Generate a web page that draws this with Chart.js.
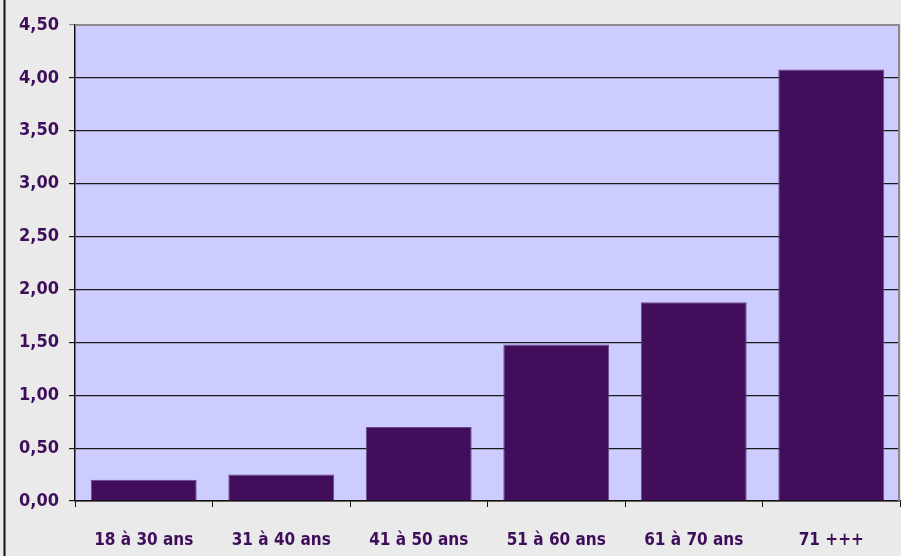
<!DOCTYPE html>
<html>
<head>
<meta charset="utf-8">
<script src="https://cdn.jsdelivr.net/npm/chart.js@4.4.0/dist/chart.umd.min.js"></script>
<style>
  html, body { margin: 0; padding: 0; background: #eaeaea; }
  #wrap { width: 901px; height: 556px; position: relative; }
</style>
</head>
<body>
<div id="wrap"><canvas id="ageChart" width="901" height="556"></canvas></div>
<script>
// Data
const categories = ['18 à 30 ans', '31 à 40 ans', '41 à 50 ans', '51 à 60 ans', '61 à 70 ans', '71 +++'];
const values = [0.20, 0.25, 0.70, 1.48, 1.88, 4.08];
const yMin = 0;
const yMax = 4.5;
const yStep = 0.5;

const textColor = '#3f0e5b';
const fontFamily = "'DejaVu Sans Condensed', sans-serif";

// Paints the outer frame and the lavender plot area
const framePlugin = {
    id: 'frame',
    beforeDraw(chart) {
        const ctx = chart.ctx;
        const a = chart.chartArea;
        ctx.save();
        ctx.fillStyle = '#eaeaea';
        ctx.fillRect(0, 0, chart.width, chart.height);
        ctx.fillStyle = '#ccccff';
        ctx.fillRect(a.left, a.top, a.right - a.left, a.bottom - a.top);
        // left frame line
        ctx.strokeStyle = '#111';
        ctx.lineWidth = 2;
        ctx.beginPath();
        ctx.moveTo(4.5, 0);
        ctx.lineTo(4.5, chart.height);
        ctx.stroke();
        ctx.restore();
    },
    afterDatasetsDraw(chart) {
        const ctx = chart.ctx;
        const a = chart.chartArea;
        ctx.save();
        ctx.strokeStyle = '#8a8a8a';
        ctx.lineWidth = 2;
        ctx.beginPath();
        ctx.moveTo(a.left, a.top);
        ctx.lineTo(a.right - 1, a.top);
        ctx.lineTo(a.right - 1, a.bottom);
        ctx.stroke();
        ctx.restore();
    }
};

const ctx = document.getElementById('ageChart').getContext('2d');
new Chart(ctx, {
    type: 'bar',
    data: {
        labels: categories,
        datasets: [{
            data: values,
            backgroundColor: '#420d5a',
            borderColor: '#6a4a8c',
            borderWidth: 1,
            categoryPercentage: 1,
            barPercentage: 0.77
        }]
    },
    options: {
        responsive: false,
        animation: false,
        layout: { padding: { top: 25, right: 1, left: 0, bottom: 0 } },
        plugins: {
            legend: { display: false },
            tooltip: { enabled: false }
        },
        scales: {
            x: {
                grid: {
                    offset: true,
                    drawOnChartArea: false,
                    color: '#111',
                    tickLength: 6
                },
                border: { color: '#111', width: 1.5 },
                ticks: {
                    color: textColor,
                    font: { family: fontFamily, size: 17, weight: 'bold' },
                    padding: 23
                },
                afterFit(scale) { scale.height = 55; }
            },
            y: {
                min: yMin,
                max: yMax,
                ticks: {
                    stepSize: yStep,
                    color: textColor,
                    font: { family: fontFamily, size: 18, weight: 'bold' },
                    padding: 10,
                    callback: v => v.toFixed(2).replace('.', ',')
                },
                grid: {
                    color: c => (c.tick && c.tick.value === yMax) ? '#8a8a8a' : '#1a1a1a',
                    lineWidth: 1.2,
                    tickLength: 6
                },
                border: { color: '#111', width: 1.5 },
                afterFit(scale) { scale.width = 75; }
            }
        }
    },
    plugins: [framePlugin]
});
</script>
</body>
</html>
